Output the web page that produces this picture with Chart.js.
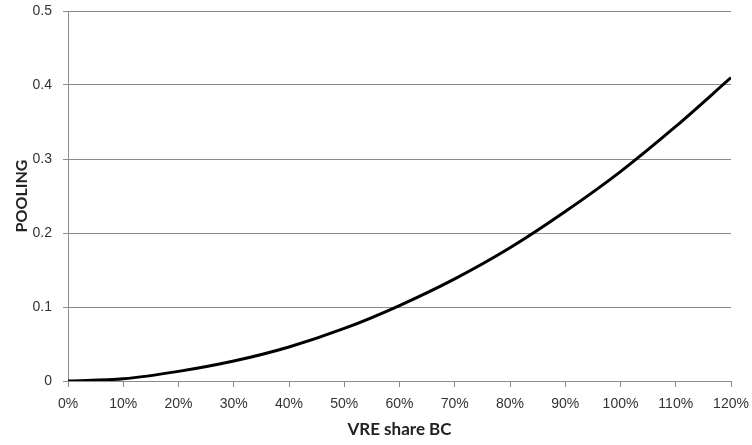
<!DOCTYPE html>
<html lang="en">

<head>
    <title>Pooling vs VRE share</title>
    <script src="https://cdn.jsdelivr.net/npm/chart.js"></script>
    <style>
        body { margin: 0; background: #fff; }
    </style>
</head>

<body>
    <canvas id="chart" width="752" height="445"></canvas>

    <script>
        // VRE share (fraction) and pooling value read at each 10% step
        const vreShare = [0, 0.1, 0.2, 0.3, 0.4, 0.5, 0.6, 0.7, 0.8, 0.9, 1.0, 1.1, 1.2];
        const pooling = [0, 0.003, 0.013, 0.027, 0.046, 0.071, 0.102, 0.138, 0.180, 0.229, 0.283, 0.344, 0.410];

        const xTitle = 'VRE share BC';
        const yTitle = 'POOLING';

        const axisGrey = '#8c8c8c';
        const tickFont = { family: 'Liberation Sans', size: 14 };

        const ctx = document.getElementById('chart').getContext('2d');

        new Chart(ctx, {
            type: 'line',
            data: {
                datasets: [{
                    label: yTitle,
                    data: vreShare.map((x, i) => ({ x: x, y: pooling[i] })),
                    borderColor: '#000',
                    borderWidth: 3,
                    pointRadius: 0,
                    cubicInterpolationMode: 'monotone',
                    fill: false
                }]
            },
            options: {
                responsive: false,
                animation: false,
                layout: { padding: { left: 0, right: 21, top: 11, bottom: 0 } },
                plugins: {
                    legend: { display: false },
                    tooltip: { enabled: false }
                },
                scales: {
                    x: {
                        type: 'linear',
                        min: 0,
                        max: 1.2,
                        // fixed axis box; edge labels may overhang into the layout padding
                        afterFit: (scale) => {
                            scale.height = 64;
                            scale.paddingLeft = 0;
                            scale.paddingRight = 0;
                        },
                        grid: {
                            drawOnChartArea: false,
                            drawTicks: true,
                            tickLength: 6,
                            color: axisGrey
                        },
                        border: { color: axisGrey, width: 1 },
                        ticks: {
                            stepSize: 0.1,
                            color: '#333',
                            font: tickFont,
                            padding: 9,
                            maxRotation: 0,
                            callback: (v) => Math.round(v * 100) + '%'
                        },
                        title: {
                            display: true,
                            text: xTitle,
                            color: '#222',
                            font: { family: 'Lato', size: 17, weight: 'bold' },
                            padding: { top: 0, bottom: 5 }
                        }
                    },
                    y: {
                        min: 0,
                        max: 0.5,
                        afterFit: (scale) => {
                            scale.width = 68;
                            scale.paddingTop = 0;
                            scale.paddingBottom = 0;
                        },
                        grid: {
                            color: axisGrey,
                            drawTicks: true,
                            tickLength: 5
                        },
                        border: { color: axisGrey, width: 1 },
                        ticks: {
                            stepSize: 0.1,
                            color: '#333',
                            font: tickFont,
                            padding: 11,
                            callback: (v) => v === 0 ? '0' : v.toFixed(1)
                        },
                        title: {
                            display: true,
                            text: yTitle,
                            color: '#222',
                            font: { family: 'Lato', size: 16, weight: 'bold' },
                            padding: { top: 12, bottom: 0 }
                        }
                    }
                }
            }
        });
    </script>
</body>

</html>
